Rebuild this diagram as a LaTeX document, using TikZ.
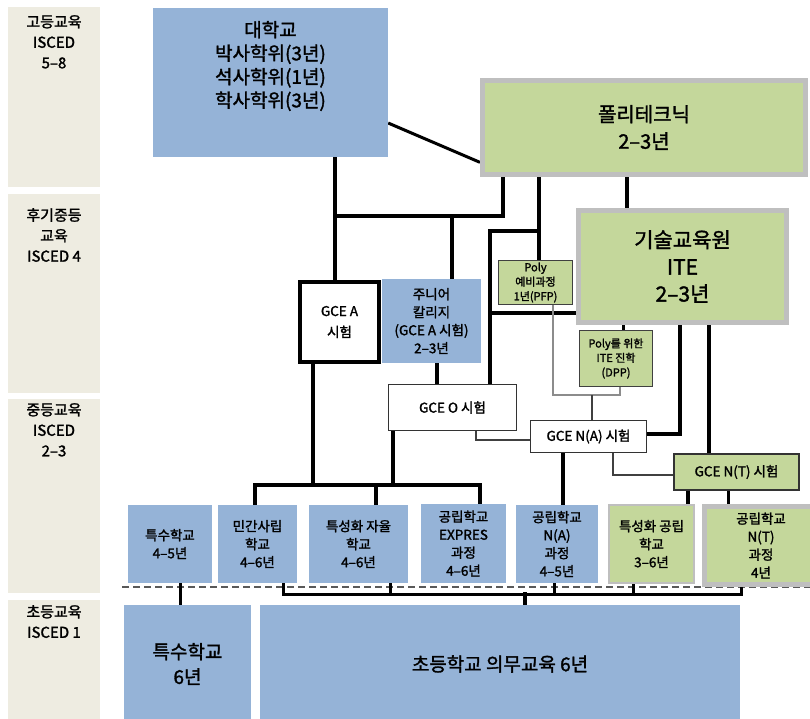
\documentclass[tikz,border=0pt]{standalone}
\usepackage{fontspec}
\setmainfont{Noto Sans CJK KR}[FakeBold=1.6]
\usetikzlibrary{backgrounds}

\definecolor{eduBlue}{HTML}{95B3D7}
\definecolor{eduGreen}{HTML}{C4D79B}
\definecolor{eduBeige}{HTML}{EEECE1}
\definecolor{eduGray}{HTML}{BFBFBF}

\newcommand\fsHuge{\fontsize{21}{27}\selectfont}
\newcommand\fsBig{\fontsize{19}{23.5}\selectfont}
\newcommand\fsLevel{\fontsize{15}{20.5}\selectfont}
\newcommand\fsMid{\fontsize{13.5}{18}\selectfont}
\newcommand\fsSmall{\fontsize{11}{14.5}\selectfont}

\tikzset{
  box/.style     = {rectangle, inner sep=0pt, align=center, text=black},
  level/.style   = {box, fill=eduBeige, minimum width=92},
  leveltxt/.style= {box, anchor=north, font=\fsLevel},
  bluebox/.style = {box, fill=eduBlue, font=\fsMid},
  polybox/.style = {box, fill=eduGreen, draw=eduGray, line width=5pt},
  exambox/.style = {box, fill=white, draw=black!80, line width=1.5pt, font=\fsMid},
  smallbox/.style= {box, fill=eduGreen, draw=black!75, line width=1.5pt, font=\fsSmall},
  biglink/.style = {draw=black, line width=4.5pt, line cap=rect},
  midlink/.style = {draw=black, line width=3pt, line cap=rect},
  thinlink/.style= {draw=black!75, line width=1.3pt},
  greylink/.style= {draw=black!45, line width=1.3pt},
  dashline/.style= {draw=black!65, line width=2pt, dash pattern=on 7pt off 4pt}
}

\begin{document}
\begin{tikzpicture}[x=1pt, y=-1pt]
  \useasboundingbox (0,0) rectangle (810,718);

  % levels
  \node[level, minimum height=180] (lv1) at (54,97)    {};
  \node[level, minimum height=199] (lv2) at (54,293.5) {};
  \node[level, minimum height=194] (lv3) at (54,496)   {};
  \node[level, minimum height=122] (lv4) at (54,661)   {};
  \node[leveltxt] (lv1t) at (54,15)  {고등교육\\ISCED\\5–8};
  \node[leveltxt] (lv2t) at (54,208) {후기중등\\교육\\ISCED 4};
  \node[leveltxt] (lv3t) at (54,403) {중등교육\\ISCED\\2–3};
  \node[leveltxt] (lv4t) at (54,605) {초등교육\\ISCED 1};

  % higher education
  \node[bluebox, minimum width=235, minimum height=149] (univ) at (270.5,82.5) {};
  \node[box, font=\fsBig] (univt) at (270.5,66) {대학교\\박사학위(3년)\\석사학위(1년)\\학사학위(3년)};
  \node[polybox, font=\fontsize{20}{27}\selectfont, minimum width=323, minimum height=94] (poly) at (644,127.5)
       {폴리테크닉\\2–3년};
  \node[polybox, font=\fsHuge, minimum width=208, minimum height=112] (ite) at (682.5,266.5)
       {기술교육원\\ITE\\2–3년};

  % post-secondary
  \node[box, fill=white, draw=black, line width=4pt, font=\fontsize{13.5}{21}\selectfont,
        minimum width=79, minimum height=80] (gcea) at (339.5,322) {GCE A\\시험};
  \node[bluebox, minimum width=99, minimum height=84] (jc) at (431.5,321)
       {주니어\\칼리지\\(GCE A 시험)\\2–3년};
  \node[smallbox, minimum width=74, minimum height=44] (pfp) at (535.5,282.5) {Poly\\예비과정\\1년(PFP)};
  \node[smallbox, minimum width=73, minimum height=56] (dpp) at (616,358.5) {Poly를 위한\\ITE 진학\\(DPP)};

  % exams
  \node[exambox, minimum width=128, minimum height=46] (gceo)  at (452.5,407.5) {GCE O 시험};
  \node[exambox, minimum width=116, minimum height=32] (gcena) at (588.5,436.5) {GCE N(A) 시험};
  \node[exambox, fill=eduGreen, line width=2pt, minimum width=125, minimum height=36] (gcent) at (736.5,472)
       {GCE N(T) 시험};

  % secondary schools
  \node[bluebox, minimum width=84, minimum height=78] (sp45) at (170,544)   {특수학교\\4–5년};
  \node[bluebox, minimum width=79, minimum height=78] (priv) at (257.5,544) {민간사립\\학교\\4–6년};
  \node[bluebox, minimum width=99, minimum height=78] (auto) at (358.5,544) {특성화 자율\\학교\\4–6년};
  \node[bluebox, minimum width=85, minimum height=79] (expr) at (463.5,543.5) {공립학교\\EXPRES\\과정\\4–6년};
  \node[bluebox, minimum width=82, minimum height=78] (na)   at (557,544)   {공립학교\\N(A)\\과정\\4–5년};
  \node[polybox, line width=2.5pt, font=\fsMid, minimum width=85, minimum height=78] (spub) at (651.5,544)
       {특성화 공립\\학교\\3–6년};
  \node[polybox, font=\fsMid, minimum width=113, minimum height=78] (nt) at (761,545.5)
       {공립학교\\N(T)\\과정\\4년};

  % primary
  \node[bluebox, font=\fontsize{19}{25}\selectfont, minimum width=127, minimum height=118] (sp6) at (187.5,664)
       {특수학교\\6년};
  \node[bluebox, font=\fsBig, minimum width=480, minimum height=118] (prim) at (500,664)
       {초등학교 의무교육 6년};

  % junctions
  \coordinate (ua) at (335,216);
  \coordinate (pa) at (503,216);
  \coordinate (ja) at (452,216);
  \coordinate (pb) at (539,231);
  \coordinate (oa) at (490,231);
  \coordinate (ob) at (490,313);
  \coordinate (pc) at (627,190);
  \coordinate (jx) at (437,370);
  \coordinate (ic) at (623,328);
  \coordinate (ia) at (680,434);
  \coordinate (ib) at (709,400);
  \coordinate (ga) at (313,485);
  \coordinate (gb) at (393,485);
  \coordinate (gl) at (255,485);
  \coordinate (gm) at (376,485);
  \coordinate (gr) at (480,485);
  \coordinate (nb) at (563,470);
  \coordinate (tb) at (688,498);
  \coordinate (tc) at (728,498);
  \coordinate (pd) at (553,395);
  \coordinate (pe) at (620,395);
  \coordinate (pn) at (592,395);
  \coordinate (oc) at (476,440);
  \coordinate (nc) at (613,475);
  \coordinate (b1) at (283,594);
  \coordinate (b2) at (390,594);
  \coordinate (b3) at (554,594);
  \coordinate (b4) at (633,594);
  \coordinate (b5) at (741,594);
  \coordinate (bm) at (525,594);
  \coordinate (sx) at (180,594);
  \coordinate (dl) at (122,587);
  \coordinate (dr) at (812,587);

  \begin{scope}[on background layer]
    \draw[midlink, line cap=butt] (univ.-19) -- (poly.192);
    \draw[biglink] (univ.south -| ua) -- (gcea.north -| ua);
    \draw[biglink] (ua) -- (pa) -- (pa |- poly.south);
    \draw[biglink] (ja) -- (ja |- jc.north);
    \draw[biglink] (pb |- poly.south) -- (pb |- pfp.north);
    \draw[biglink] (pb) -- (oa) -- (oa |- gceo.north);
    \draw[biglink] (ob) -- (ob -| ite.west);
    \draw[biglink] (pc |- poly.south) -- (pc |- ite.north);
    \draw[biglink] (jx |- jc.south) -- (jx |- gceo.north);
    \draw[midlink] (ic |- ite.south) -- (ic |- dpp.north);
    \draw[biglink] (ia |- ite.south) -- (ia) -- (ia -| gcena.east);
    \draw[biglink] (ib |- ite.south) -- (ib |- gcent.north);
    \draw[biglink] (ga |- gcea.south) -- (ga);
    \draw[biglink] (gb |- gceo.south) -- (gb);
    \draw[biglink] (gl |- priv.north) -- (gl) -- (gr) -- (gr |- expr.north);
    \draw[biglink] (gm) -- (gm |- auto.north);
    \draw[biglink] (nb |- gcena.south) -- (nb |- na.north);
    \draw[biglink] (tb |- gcent.south) -- (tb |- spub.north);
    \draw[midlink] (tc |- gcent.south) -- (tc |- nt.north);
    \draw[greylink] (pd |- pfp.south) -- (pd) -- (pe) -- (pe |- dpp.south);
    \draw[thinlink] (pn) -- (pn |- gcena.north);
    \draw[thinlink] (oc |- gceo.south) -- (oc) -- (oc -| gcena.west);
    \draw[thinlink] (nc |- gcena.south) -- (nc) -- (nc -| gcent.west);
    \draw[dashline] (dl) -- (dr);
    \draw[midlink] (b1 |- priv.south) -- (b1) -- (b5) -- (b5 |- nt.south);
    \draw[midlink] (b2 |- auto.south) -- (b2);
    \draw[midlink] (b3 |- na.south) -- (b3);
    \draw[midlink] (b4 |- spub.south) -- (b4);
    \draw[biglink] (bm) -- (bm |- prim.north);
    \draw[midlink] (sx |- sp45.south) -- (sx |- sp6.north);
  \end{scope}
\end{tikzpicture}
\end{document}
